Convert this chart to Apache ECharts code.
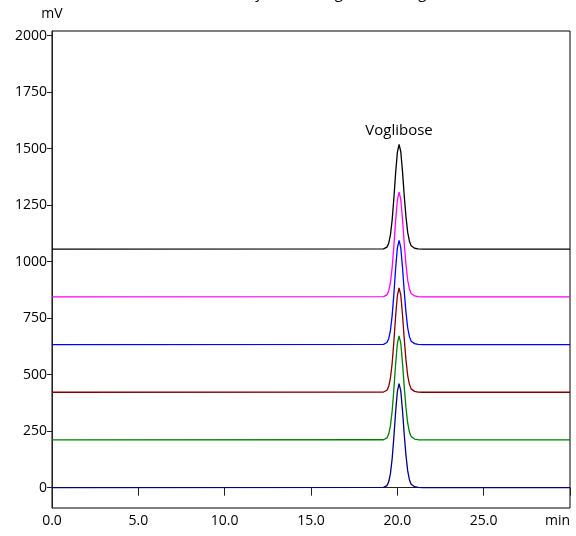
<!DOCTYPE html>
<html>
<head>
<meta charset="utf-8">
<script src="https://cdn.jsdelivr.net/npm/echarts@6/dist/echarts.min.js"></script>
<style>html,body{margin:0;padding:0;background:#fff}#c{width:576px;height:536px}</style>
</head>
<body>
<div id="c"></div>
<script>
const times = [0, 19.2, 19.3, 19.4, 19.5, 19.6, 19.7, 19.8, 19.9, 20.0, 20.1, 20.2, 20.3, 20.4, 20.5, 20.6, 20.7, 20.8, 20.9, 21.0, 21.2, 21.5, 30];
const navy    = [0, 1, 3, 9, 26, 62, 128, 224, 334, 425, 460, 428, 340, 235, 143, 74, 35, 15, 7, 4, 1, 0, 0];
const green   = [211, 212, 214, 220, 237, 273, 339, 435, 545, 636, 671, 639, 551, 446, 354, 285, 246, 226, 218, 215, 212, 211, 211];
const brown   = [422, 423, 425, 431, 448, 484, 550, 647, 757, 848, 884, 852, 764, 658, 565, 496, 457, 437, 429, 426, 423, 422, 422];
const blue    = [633, 634, 636, 642, 659, 695, 761, 857, 968, 1059, 1094, 1062, 974, 868, 776, 707, 668, 648, 640, 637, 634, 633, 633];
const magenta = [844, 845, 847, 853, 870, 907, 973, 1069, 1180, 1271, 1307, 1275, 1187, 1080, 988, 918, 879, 859, 851, 848, 845, 844, 844];
const black   = [1055, 1056, 1058, 1064, 1081, 1118, 1184, 1280, 1391, 1482, 1518, 1486, 1398, 1291, 1199, 1129, 1090, 1070, 1062, 1059, 1056, 1055, 1055];
const yTicks = [0, 250, 500, 750, 1000, 1250, 1500, 1750, 2000];
const peakName = 'Voglibose';
const peakTime = 20.1;
const titleText = 'Linearity chromatograms of Voglibose';

const seriesDefs = [
  {name: 'L1', data: navy, color: '#000080'},
  {name: 'L2', data: green, color: '#008000'},
  {name: 'L3', data: brown, color: '#800000'},
  {name: 'L4', data: blue, color: '#0000ff'},
  {name: 'L5', data: magenta, color: '#ff00ff'},
  {name: 'L6', data: black, color: '#000000'}
];
const font = 'Open Sans';
const chart = echarts.init(document.getElementById('c'), null, {renderer: 'canvas'});
const series = seriesDefs.map((s, i) => {
  const o = {
    name: s.name, type: 'line', showSymbol: false, symbol: 'none', silent: true,
    data: times.map((t, j) => [t, s.data[j]]),
    lineStyle: {color: s.color, width: 1.3},
    itemStyle: {color: s.color},
    z: 2 + i
  };
  if (i === seriesDefs.length - 1) {
    const apex = s.data[times.indexOf(peakTime)];
    o.markPoint = {
      symbol: 'circle', symbolSize: 0, silent: true,
      data: [{coord: [peakTime, apex], value: peakName}],
      label: {show: true, position: 'top', distance: 6, formatter: peakName,
        color: '#000', fontFamily: font, fontSize: 15}
    };
  }
  return o;
});
chart.setOption({
  animation: false,
  backgroundColor: '#fff',
  title: {text: titleText, left: 330, top: -19, textAlign: 'center',
    textStyle: {fontFamily: font, fontSize: 15, fontWeight: 'normal', color: '#000'}},
  grid: {left: 52, right: 6, top: 31, bottom: 28, show: true, borderColor: '#000', borderWidth: 1, backgroundColor: 'transparent'},
  xAxis: {
    type: 'value', min: 0, max: 30, interval: 5,
    axisLine: {show: true, lineStyle: {color: '#222', width: 1}},
    axisTick: {show: true, length: 8, lineStyle: {color: '#222'}},
    splitLine: {show: false},
    axisLabel: {color: '#000', fontFamily: font, fontSize: 14, margin: 6,
      alignMaxLabel: 'right',
      formatter: v => v === 30 ? 'min' : v.toFixed(1)}
  },
  yAxis: {
    type: 'value', min: -90, max: 2020,
    name: 'mV', nameLocation: 'end', nameGap: 10,
    nameTextStyle: {color: '#000', fontFamily: font, fontSize: 14, align: 'center'},
    axisLine: {show: true, lineStyle: {color: '#222', width: 1}},
    axisTick: {show: true, length: 5, customValues: yTicks, lineStyle: {color: '#222'}},
    splitLine: {show: false},
    axisLabel: {color: '#000', fontFamily: font, fontSize: 14, margin: 5, customValues: yTicks,
      formatter: v => String(v)}
  },
  series: series
});
</script>
</body>
</html>
